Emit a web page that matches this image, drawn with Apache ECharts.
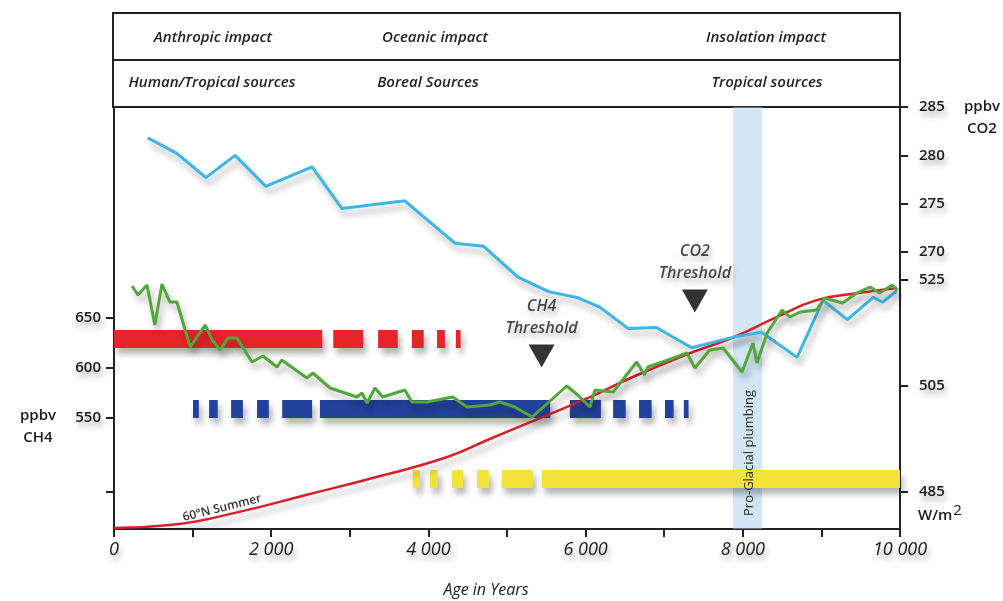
<!DOCTYPE html>
<html>
<head>
<meta charset="utf-8">
<script src="https://cdn.jsdelivr.net/npm/echarts@6/dist/echarts.min.js"></script>
<style>
  html, body { margin: 0; padding: 0; background: #fff; }
  #chart { width: 1003px; height: 601px; }
</style>
</head>
<body>
<div id="chart"></div>
<script>
// CO2 (ppbv)
var co2Years = [430, 800, 1170, 1540, 1930, 2520, 2900, 3700, 4340, 4700, 5140, 5530, 5890, 6180, 6540, 6900, 7350, 7880, 8240, 8690, 9020, 9330, 9660, 9780, 9960];
var co2Values = [281.8, 280.2, 277.7, 280.0, 276.8, 278.8, 274.5, 275.3, 270.9, 270.6, 267.4, 265.9, 265.3, 264.3, 262.1, 262.2, 260.1, 261.2, 261.7, 259.1, 265.0, 263.0, 265.3, 264.8, 266.0];

// CH4 (ppbv), green line
var ch4Years = [230, 305, 420, 520, 610, 710, 800, 970, 1160, 1250, 1350, 1450, 1565, 1755, 1895, 2075, 2135, 2455, 2530, 2750, 3090, 3155, 3220, 3320, 3420, 3700, 3790, 3980, 4310, 4490, 4780, 4910, 5100, 5320, 5520, 5760, 5900, 6055, 6120, 6350, 6650, 6750, 6790, 6980, 7290, 7390, 7580, 7750, 7990, 8130, 8180, 8310, 8500, 8600, 8730, 8940, 9040, 9270, 9450, 9620, 9740, 9900, 9970];
var ch4Values = [682, 673, 683, 643, 684, 666, 666, 621, 643, 628, 618, 630, 630, 606, 612, 601, 608, 590, 595, 580, 571, 575, 565, 580, 571, 578, 566, 566, 571, 561, 563, 566, 561, 551, 565, 582, 573, 561, 578, 576, 606, 593, 601, 606, 615, 600, 618, 620, 596, 625, 605, 635, 658, 651, 656, 658, 670, 665, 675, 681, 675, 683, 678];

// 60N summer insolation (W/m2), red curve
var insYears = [0, 740, 1580, 2430, 3280, 4240, 4780, 6055, 6600, 7330, 7880, 8430, 8940, 9450, 9960];
var insValues = [478.2, 478.8, 481.2, 484.4, 487.6, 491.6, 495.0, 502.9, 506.7, 511.2, 514.2, 518.0, 521.2, 522.5, 523.5];

// source periods, [start, end] in years
var humanTropical = [[0, 2650], [2790, 3170], [3360, 3610], [3790, 3940], [4110, 4210], [4350, 4410]];
var borealSources = [[1005, 1080], [1210, 1320], [1490, 1640], [1820, 1970], [2140, 2520], [2620, 5550], [5800, 6195], [6350, 6510], [6680, 6840], [7010, 7120], [7250, 7310]];
var tropicalSources = [[3800, 3890], [4020, 4120], [4300, 4440], [4620, 4770], [4935, 5330], [5445, 10000]];

// thresholds [year, CH4 axis level], glacial band
var thresholdNames = ['CH4\nThreshold', 'CO2\nThreshold'];
var thresholdPoints = [[5440, 612], [7390, 667]];
var glacialBand = [7875, 8245];

var xTicks = [0, 2000, 4000, 6000, 8000, 10000];
var ch4Ticks = [476, 550, 600, 650];
var ch4Labels = [550, 600, 650];
var co2Ticks = [270, 275, 280, 285];
var insTicks = [485, 505, 525];

var FONT = '"Open Sans", "Noto Sans", sans-serif';
var SH = { shadowColor: 'rgba(0,0,0,0.3)', shadowBlur: 6, shadowOffsetX: 3, shadowOffsetY: 6 };
var TSH = { textShadowColor: 'rgba(0,0,0,0.35)', textShadowBlur: 6, textShadowOffsetX: 2, textShadowOffsetY: 5 };

function zip(a, b) {
    var out = [];
    for (var i = 0; i < a.length; i++) out.push([a[i], b[i]]);
    return out;
}

function barSeries(name, segs, level, color) {
    return {
        name: name,
        type: 'custom',
        xAxisIndex: 0,
        yAxisIndex: 0,
        z: 3,
        silent: true,
        data: segs,
        renderItem: function (params, api) {
            var s = api.coord([api.value(0), level]);
            var e = api.coord([api.value(1), level]);
            return {
                type: 'rect',
                shape: { x: s[0], y: s[1] - 9, width: e[0] - s[0], height: 18 },
                style: Object.assign({ fill: color }, SH)
            };
        }
    };
}

function axisText(size) {
    return Object.assign({ fontFamily: FONT, fontSize: size, fontWeight: 600, color: '#1a1a1a' }, TSH);
}

var myChart = echarts.init(document.getElementById('chart'));

var headerTexts = [
    ['Anthropic impact', 213, 38], ['Oceanic impact', 435, 38], ['Insolation impact', 766, 38],
    ['Human/Tropical sources', 212, 83], ['Boreal Sources', 428, 83], ['Tropical sources', 767, 83]
];

var graphics = [
    { type: 'rect', shape: { x: 113, y: 13, width: 787, height: 94 }, style: { fill: '#fff', stroke: '#222', lineWidth: 2 }, z: 1 },
    { type: 'line', shape: { x1: 113, y1: 60, x2: 900, y2: 60 }, style: { stroke: '#222', lineWidth: 2 }, z: 2 }
];
headerTexts.forEach(function (t) {
    graphics.push({
        type: 'text', x: t[1], y: t[2], z: 3,
        style: {
            text: t[0], fill: '#222', textAlign: 'center', textVerticalAlign: 'middle',
            font: 'italic 600 15px ' + FONT,
            shadowColor: 'rgba(0,0,0,0.35)', shadowBlur: 6, shadowOffsetX: 2, shadowOffsetY: 5
        }
    });
});
// axis names and annotations
var notes = [
    ['ppbv\nCH4', 38, 427, '600 15px '],
    ['ppbv\nCO2', 982, 118, '600 15px '],
    ['Age in Years', 486, 590, 'italic 500 16px ']
];
notes.forEach(function (t) {
    graphics.push({
        type: 'text', x: t[1], y: t[2], z: 3,
        style: {
            text: t[0], fill: '#1a1a1a', textAlign: 'center', textVerticalAlign: 'middle',
            font: t[3] + FONT, lineHeight: 22,
            shadowColor: 'rgba(0,0,0,0.35)', shadowBlur: 6, shadowOffsetX: 2, shadowOffsetY: 5
        }
    });
});
graphics.push({
    type: 'text', x: 918, y: 516, z: 3,
    style: {
        text: '{a|W/m}{b|2}', textVerticalAlign: 'middle',
        rich: {
            a: { fontFamily: FONT, fontSize: 15, fontWeight: 600, fill: '#1a1a1a' },
            b: { fontFamily: FONT, fontSize: 15, fontWeight: 400, fill: '#1a1a1a', verticalAlign: 'top', padding: [0, 0, 10, 1] }
        }
    }
});
graphics.push({
    type: 'text', x: 222, y: 508, rotation: 14 * Math.PI / 180, z: 5,
    style: { text: '60°N Summer', textAlign: 'center', textVerticalAlign: 'middle', font: '600 12px ' + FONT, fill: '#333' }
});
graphics.push({
    type: 'text', x: 749, y: 453, rotation: Math.PI / 2, z: 5,
    style: { text: 'Pro-Glacial plumbing', textAlign: 'center', textVerticalAlign: 'middle', font: '500 13px ' + FONT, fill: '#2a2a2a' }
});

myChart.setOption({
    animation: false,
    backgroundColor: '#fff',
    grid: { left: 114, right: 103, top: 107, bottom: 72 },
    graphic: graphics,
    xAxis: {
        type: 'value', min: 0, max: 10000, interval: 1000,
        splitLine: { show: false },
        axisLine: { onZero: false, lineStyle: { color: '#222', width: 2 } },
        axisTick: { length: 8, lineStyle: { color: '#222', width: 2 } },
        axisLabel: Object.assign(axisText(18), {
            fontStyle: 'italic', fontWeight: 500, margin: 12,
            customValues: xTicks,
            formatter: function (v) { return v === 0 ? '0' : (v / 1000) + ' 000'; }
        })
    },
    yAxis: [
        {
            type: 'value', position: 'left', min: 439, max: 861,
            splitLine: { show: false },
            axisLine: { show: true, onZero: false, lineStyle: { color: '#222', width: 2 } },
            axisTick: { show: true, length: 8, customValues: ch4Ticks, lineStyle: { color: '#222', width: 2 } },
            axisLabel: Object.assign(axisText(15), { margin: 13, customValues: ch4Labels })
        },
        {
            type: 'value', position: 'right', min: 241.35, max: 285,
            splitLine: { show: false },
            axisLine: { show: true, onZero: false, lineStyle: { color: '#222', width: 2 } },
            axisTick: { show: true, length: 8, customValues: co2Ticks, lineStyle: { color: '#222', width: 2 } },
            axisLabel: Object.assign(axisText(15), { margin: 19, customValues: co2Ticks })
        },
        {
            type: 'value', position: 'right', min: 478.02, max: 557.64,
            splitLine: { show: false },
            axisLine: { show: true, onZero: false, lineStyle: { color: '#222', width: 2 } },
            axisTick: { show: true, length: 8, customValues: insTicks, lineStyle: { color: '#222', width: 2 } },
            axisLabel: Object.assign(axisText(15), { margin: 19, customValues: insTicks })
        }
    ],
    series: [
        {
            name: 'band', type: 'line', data: [], z: 1, silent: true,
            markArea: {
                silent: true,
                itemStyle: { color: 'rgba(165,208,232,0.5)' },
                data: [[{ xAxis: glacialBand[0] }, { xAxis: glacialBand[1] }]]
            }
        },
        barSeries('Human/Tropical sources', humanTropical, 629, '#e5252b'),
        barSeries('Boreal Sources', borealSources, 559, '#22419a'),
        barSeries('Tropical sources', tropicalSources, 489, '#f4e23b'),
        {
            name: 'Insolation', type: 'line', yAxisIndex: 2, smooth: true, symbol: 'none', z: 4,
            lineStyle: Object.assign({ color: '#d81f27', width: 2.5 }, SH),
            data: zip(insYears, insValues)
        },
        {
            name: 'CO2', type: 'line', yAxisIndex: 1, symbol: 'none', z: 5,
            lineStyle: Object.assign({ color: '#3cb6e6', width: 3 }, SH),
            data: zip(co2Years, co2Values)
        },
        {
            name: 'CH4', type: 'line', yAxisIndex: 0, symbol: 'none', z: 6,
            lineStyle: Object.assign({ color: '#52a73b', width: 3 }, SH),
            data: zip(ch4Years, ch4Values)
        },
        {
            name: 'Threshold', type: 'scatter', yAxisIndex: 0, z: 7, silent: true,
            symbol: 'triangle', symbolRotate: 180, symbolSize: [26, 23],
            itemStyle: { color: '#000' },
            label: Object.assign({
                show: true, position: 'top', distance: 5,
                fontFamily: FONT, fontSize: 16, fontStyle: 'italic', fontWeight: 600,
                color: '#1a1a1a', lineHeight: 22, align: 'center',
                formatter: function (p) { return thresholdNames[p.dataIndex]; }
            }, TSH),
            data: thresholdPoints
        }
    ]
});
</script>
</body>
</html>
